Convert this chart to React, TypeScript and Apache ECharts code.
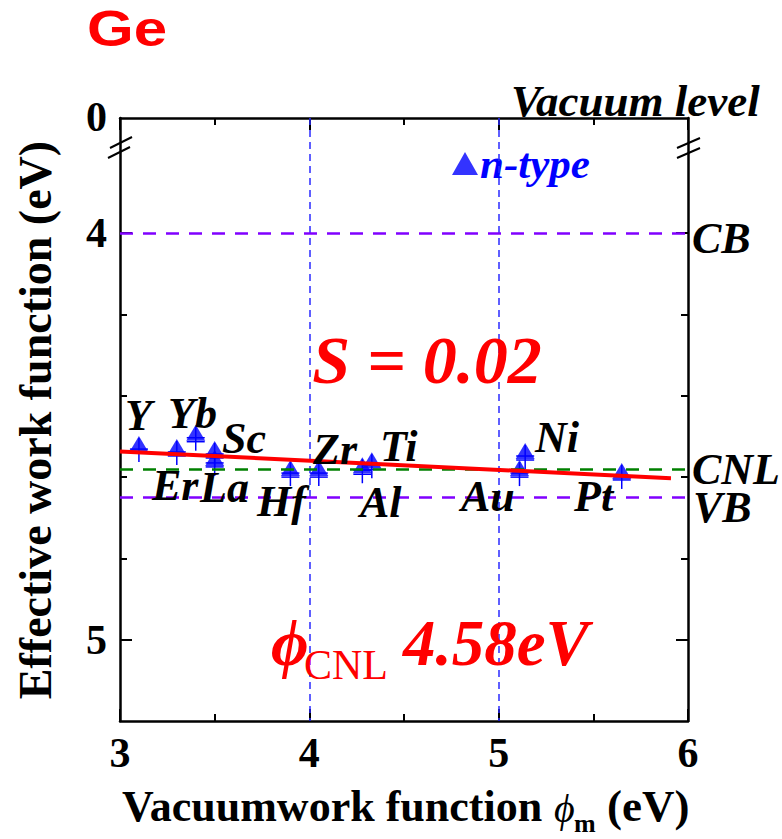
import React, { useEffect, useRef } from "react";
import * as echarts from "echarts";

// ---- data ----
const metals = ["Y", "Er", "Yb", "Sc", "La", "Hf", "Zr", "Al", "Ti", "Au", "Ni", "Pt"];
const vacuumWF = [3.1, 3.3, 3.4, 3.5, 3.5, 3.9, 4.05, 4.28, 4.33, 5.11, 5.14, 5.65];
const effectiveWF = [4.519, 4.526, 4.491, 4.531, 4.553, 4.578, 4.578, 4.571, 4.559, 4.578, 4.536, 4.585];
const fitX = [3.0, 5.91];
const fitY = [4.537, 4.603];
const levelCB = 4.0;
const levelVB = 4.65;
const levelCNL = 4.58;
const guideX = [4, 5];
const xRange = [3, 6];
const yRange = [3.717, 5.2];
const yMajorTicks = [4, 5];
const yMinorTicks = [4.2, 4.4, 4.6, 4.8];

const SERIF = "'Liberation Serif', 'Times New Roman', serif";

export default function App() {
  const ref = useRef<HTMLDivElement>(null);
  useEffect(() => {
    if (!ref.current) return;
    const chart = echarts.init(ref.current, null, { renderer: "svg" });
    const black = "#000";
    const labelStyle = { fontFamily: SERIF, fontSize: 42, fontWeight: "bold", color: black };
    const xAxisBase = (pos: "top" | "bottom", showLabel: boolean) => ({
      type: "value",
      position: pos,
      min: xRange[0],
      max: xRange[1],
      interval: 1,
      axisLine: { show: true, onZero: false, lineStyle: { color: black, width: 2.5 } },
      axisTick: { show: true, inside: true, length: 12, lineStyle: { color: black, width: 2 } },
      minorTick: { show: true, splitNumber: 2, length: 7, lineStyle: { color: black, width: 2 } },
      splitLine: { show: false },
      minorSplitLine: { show: false },
      axisLabel: showLabel ? { ...labelStyle, margin: 11 } : { show: false },
    });
    const yAxisBase = (pos: "left" | "right", major: boolean, showLabel: boolean) => ({
      type: "value",
      position: pos,
      inverse: true,
      min: yRange[0],
      max: yRange[1],
      axisLine: { show: major, onZero: false, lineStyle: { color: black, width: 2.5 } },
      axisTick: {
        show: true,
        inside: true,
        length: major ? 12 : 7,
        customValues: major ? yMajorTicks : yMinorTicks,
        lineStyle: { color: black, width: 2 },
      },
      splitLine: { show: false },
      axisLabel: showLabel
        ? { ...labelStyle, margin: 13, customValues: yMajorTicks, formatter: (v: number) => String(Math.round(v)) }
        : { show: false },
    });

    const t = (text: string, x: number, y: number, size: number, extra: any = {}) => ({
      type: "text",
      x,
      y,
      z: 20,
      style: {
        text,
        fontFamily: SERIF,
        fontSize: size,
        fontWeight: "bold",
        fontStyle: "italic",
        fill: black,
        align: "left",
        verticalAlign: "middle",
        ...extra,
      },
    });

    const pointLabelPos: Record<string, [number, number]> = {
      Y: [125, 415],
      Yb: [168, 413],
      Sc: [222, 438],
      Er: [152, 485],
      La: [200, 487],
      Hf: [257, 501],
      Zr: [313, 449],
      Ti: [380, 446],
      Al: [360, 502],
      Au: [461, 496],
      Ni: [535, 437],
      Pt: [574, 496],
    };

    const blue = "#0000ff";
    const ebStyle = { stroke: blue, lineWidth: 1.5 };

    chart.setOption({
      animation: false,
      backgroundColor: "#fff",
      grid: { left: 120, right: 94, top: 118, bottom: 118, containLabel: false },
      legend: {
        data: [{ name: "n-type", icon: "triangle" }],
        left: 452,
        top: 142,
        padding: 0,
        itemWidth: 26,
        itemHeight: 23,
        itemGap: 0,
        textStyle: { fontFamily: SERIF, fontSize: 43, fontWeight: "bold", fontStyle: "italic", color: blue, padding: [0, 0, 0, -3] },
      },
      xAxis: [xAxisBase("bottom", true), xAxisBase("top", false)],
      yAxis: [
        yAxisBase("left", true, true),
        yAxisBase("left", false, false),
        yAxisBase("right", true, false),
        yAxisBase("right", false, false),
      ],
      series: [
        {
          name: "guides",
          type: "line",
          data: [],
          silent: true,
          z: 5,
          markLine: {
            silent: true,
            symbol: "none",
            label: { show: false },
            data: [
              ...guideX.map((v) => ({ xAxis: v, lineStyle: { color: "#2a2aff", width: 1.5, type: [7, 5] } })),
              { yAxis: levelCB, lineStyle: { color: "#8000ff", width: 2.5, type: [13, 10] } },
              { yAxis: levelVB, lineStyle: { color: "#8000ff", width: 2.5, type: [13, 10] } },
              { yAxis: levelCNL, lineStyle: { color: "#008000", width: 2.5, type: [13, 10] } },
            ],
          },
        },
        {
          name: "n-type",
          type: "scatter",
          symbol: "triangle",
          symbolSize: [19, 16],
          itemStyle: { color: blue },
          z: 3,
          data: vacuumWF.map((x, i) => [x, effectiveWF[i]]),
        },
        {
          name: "errorbars",
          type: "custom",
          z: 3,
          data: vacuumWF.map((x, i) => [x, effectiveWF[i]]),
          encode: { x: 0, y: 1 },
          renderItem: (params: any, api: any) => {
            const p = api.coord([api.value(0), api.value(1)]);
            const x = p[0];
            const y = p[1];
            return {
              type: "group",
              children: [
                { type: "line", shape: { x1: x, y1: y - 6, x2: x, y2: y + 18 }, style: ebStyle },
                { type: "line", shape: { x1: x - 9, y1: y + 5, x2: x + 9, y2: y + 5 }, style: ebStyle },
                { type: "line", shape: { x1: x - 9, y1: y + 9, x2: x + 9, y2: y + 9 }, style: ebStyle },
              ],
            };
          },
        },
        {
          name: "fit",
          type: "line",
          z: 6,
          symbol: "none",
          lineStyle: { color: "#ff0000", width: 4 },
          data: fitX.map((x, i) => [x, fitY[i]]),
        },
      ],
      graphic: [
        {
          type: "text",
          x: 87,
          y: 29,
          scaleX: 1.2,
          style: {
            text: "Ge",
            fontFamily: "'Liberation Sans', Arial, sans-serif",
            fontWeight: "bold",
            fontSize: 50,
            fill: "#ff0000",
            align: "left",
            verticalAlign: "middle",
          },
        },
        t("0", 107, 117, 42, { fontStyle: "normal", align: "right" }),
        t("Vacuum level", 511, 101, 45),
        t("CB", 692, 238, 44),
        t("CNL", 692, 469, 44, { lineHeight: 36 }),
        t("VB", 693, 507, 44, { lineHeight: 36 }),
        ...metals.map((m) => t(m, pointLabelPos[m][0], pointLabelPos[m][1], 44, { lineHeight: 36 })),
        t("S = 0.02", 427, 360, 68, { fill: "#ff0000", align: "center" }),
        t("\u03d5", 271, 643, 65, { fill: "#ff0000" }),
        t("CNL", 304, 665, 42, { fill: "#ff0000", fontStyle: "normal", fontWeight: "normal" }),
        t("4.58eV", 403, 643, 65, { fill: "#ff0000" }),
        // x axis title
        t("Vacuumwork function", 122, 806, 44, { fontStyle: "normal" }),
        t("\u03d5", 554, 808, 40, { fontWeight: "normal" }),
        t("m", 574, 823, 26, { fontStyle: "normal" }),
        t("(eV)", 607, 806, 45, { fontStyle: "normal" }),
        // y axis title
        {
          type: "text",
          x: 35,
          y: 420,
          rotation: Math.PI / 2,
          style: {
            text: "Effective work function (eV)",
            fontFamily: SERIF,
            fontSize: 46,
            fontWeight: "bold",
            fill: black,
            align: "center",
            verticalAlign: "middle",
          },
        },
        // axis break marks
        { type: "line", shape: { x1: 110, y1: 148, x2: 132, y2: 137 }, style: { stroke: black, lineWidth: 2 } },
        { type: "line", shape: { x1: 108, y1: 158, x2: 130, y2: 147 }, style: { stroke: black, lineWidth: 2 } },
        { type: "line", shape: { x1: 677, y1: 148, x2: 700, y2: 138 }, style: { stroke: black, lineWidth: 2 } },
        { type: "line", shape: { x1: 677, y1: 158, x2: 700, y2: 148 }, style: { stroke: black, lineWidth: 2 } },
      ],
    });
    return () => chart.dispose();
  }, []);
  return (
    <div
      ref={ref}
      style={{ position: "fixed", left: 0, top: 0, width: 782, height: 839, background: "#fff" }}
    />
  );
}
